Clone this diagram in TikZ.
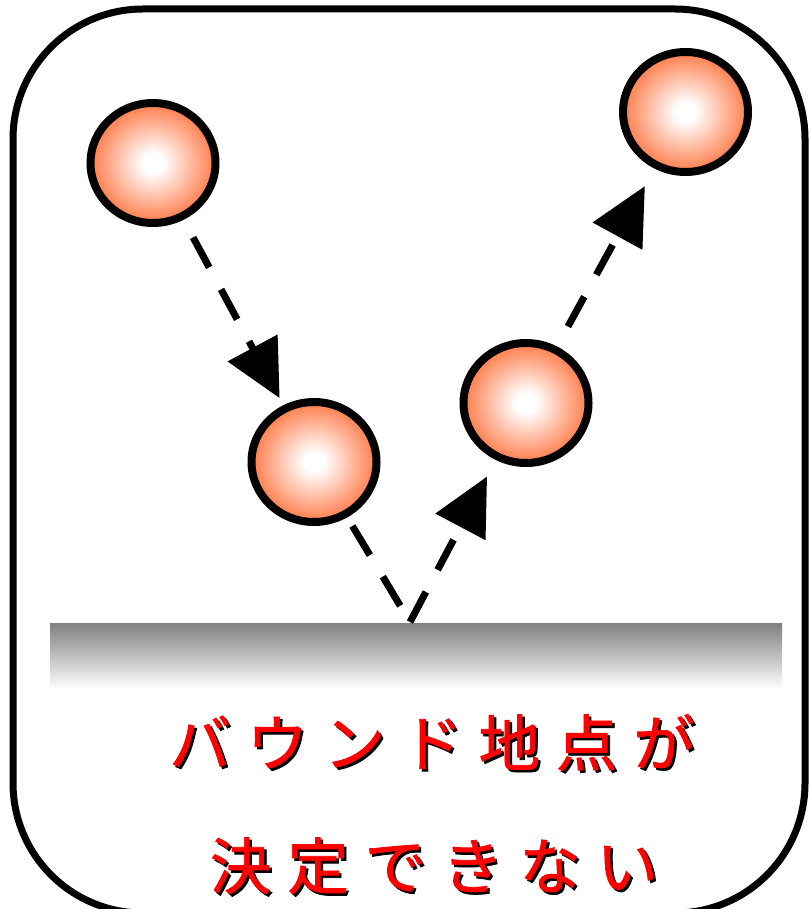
\documentclass[tikz,border=0pt]{standalone}
\usepackage{fontspec}
\newfontfamily\jpfont[FakeBold=1.2]{Noto Sans CJK JP}
\usetikzlibrary{arrows.meta,shapes.geometric}
\definecolor{ballorange}{RGB}{255,92,30}
\definecolor{floorgray}{RGB}{128,128,128}
\definecolor{txtred}{RGB}{255,0,0}
\pgfdeclareradialshading{ballshade}{\pgfpoint{0bp}{0bp}}{color(0bp)=(white); color(4bp)=(white); color(30bp)=(ballorange); color(50bp)=(ballorange)}
\newcommand\jgap{\kern12pt}
\tikzset{
  ball/.style={ellipse, draw=black, line width=6pt, minimum width=93.75pt, minimum height=90pt, inner sep=0pt, shading=ballshade},
  flowline/.style={line width=5.25pt, dash pattern=on 25.5pt off 18.75pt},
  flow/.style={flowline, -{Triangle[length=42.75pt,width=41.25pt]}},
  jtext/.style={anchor=base, inner sep=0pt, font=\jpfont\fontsize{46pt}{50pt}\selectfont},
  frame/.style={line width=5.25pt, rounded corners=97.5pt}
}
\begin{document}
\begin{tikzpicture}[x=0.75pt, y=-0.75pt]
\useasboundingbox (0,0) rectangle (809,909);
\draw[frame] (13,9) rectangle (805,913);
\shade[top color=floorgray, bottom color=white] (50,623) rectangle (782,689);
\node[ball] (b1) at (153,163) {};
\node[ball] (b2) at (685.5,112) {};
\node[ball] (b3) at (314,462) {};
\node[ball] (b4) at (526,403) {};
\coordinate (bounce) at (410,622);
\draw[flow, shorten <=15pt, shorten >=6pt] (b1) -- (b3);
\draw[flowline, shorten <=7.5pt] (b3) -- (bounce);
\draw[flow, shorten >=14pt] (bounce) -- (b4);
\draw[flow, shorten <=17pt, shorten >=15pt] (b4) -- (b2);
\node[jtext, text=black] (t1s) at (434.5,768.5) {バ\jgap ウ\jgap ン\jgap ド\jgap 地\jgap 点\jgap が};
\node[jtext, text=txtred] (t1) at (432,766) {バ\jgap ウ\jgap ン\jgap ド\jgap 地\jgap 点\jgap が};
\node[jtext, text=black] (t2s) at (436.5,891.5) {決\jgap 定\jgap で\jgap き\jgap な\jgap い};
\node[jtext, text=txtred] (t2) at (434,889) {決\jgap 定\jgap で\jgap き\jgap な\jgap い};
\end{tikzpicture}
\end{document}
